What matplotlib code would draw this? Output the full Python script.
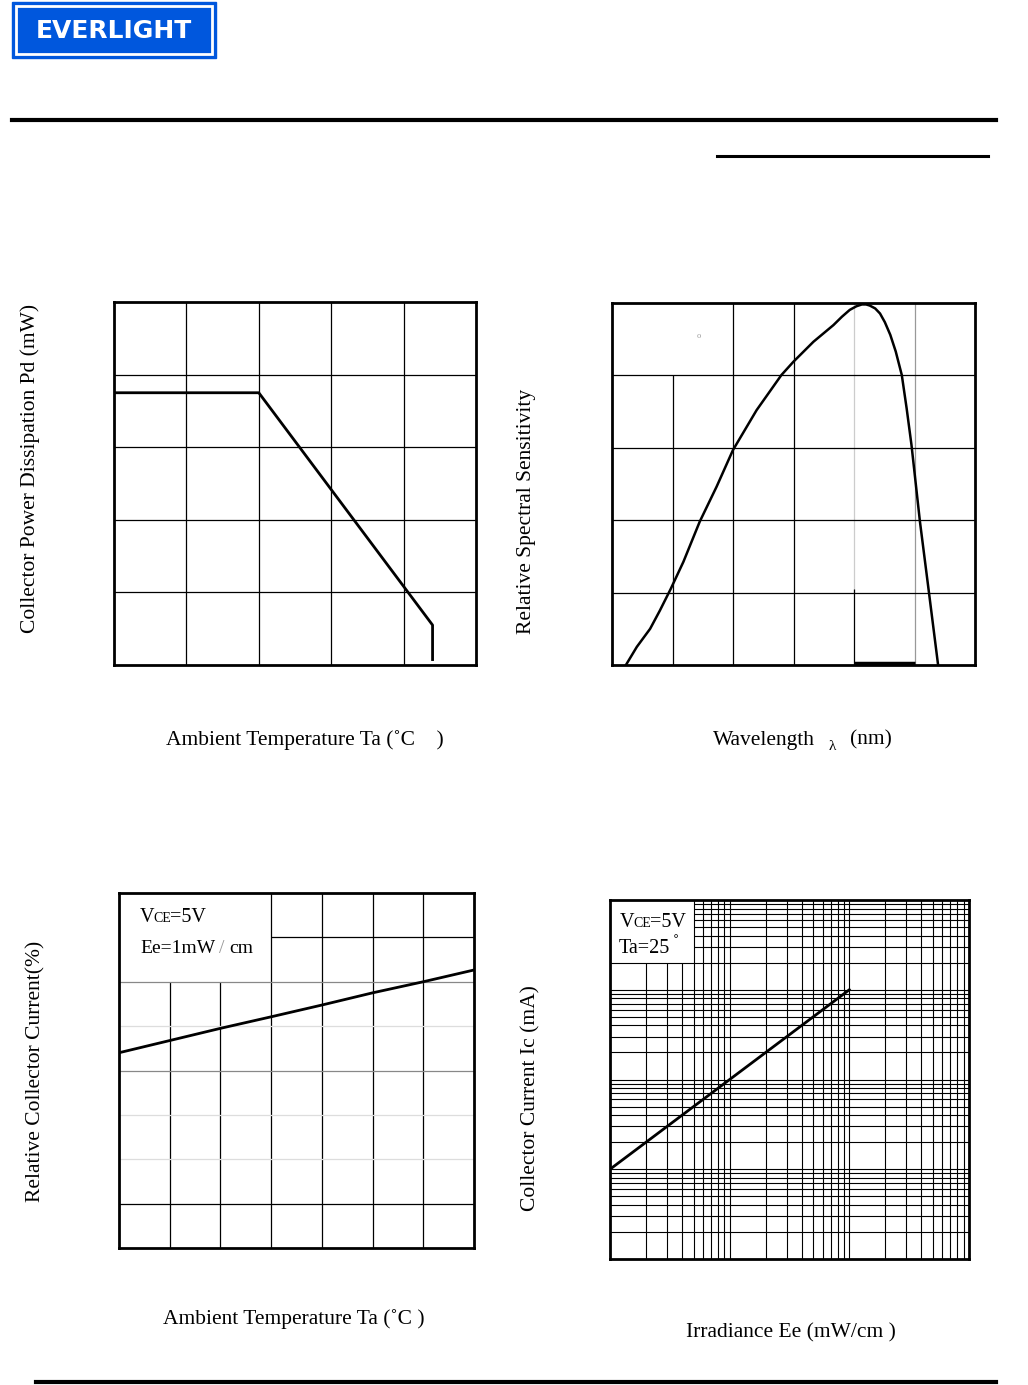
import matplotlib
matplotlib.use("Agg")
import matplotlib.pyplot as plt
from matplotlib.patches import Rectangle

plt.rcParams['font.family'] = ['Liberation Serif', 'DejaVu Serif']

W, H = 1028, 1385

# power dissipation vs ambient temperature
pd_ta = [-25, 25, 85, 85]
pd_mw = [75, 75, 11, 1.5]

# relative spectral sensitivity
wl_nm = [523, 541, 563, 579, 597, 618, 645, 673, 700, 739, 780, 800, 833,
         866, 880, 893, 904, 913, 920, 926, 935, 943, 951, 960, 969, 979,
         987, 995, 1009, 1023, 1039]
sens = [0, 5, 10, 15, 21, 28.5, 39.6, 49.3, 59.4, 70.4, 80.1, 83.8, 89.3,
        93.9, 96.2, 98.1, 99.1, 99.6, 99.6, 99.3, 98.5, 97.1, 94.7, 91.2,
        86.6, 80.1, 70.9, 60.8, 39.6, 21.2, 0]

# relative collector current vs ambient temperature
rc_ta = [-25, 0, 25, 50, 75, 100, 125, 150]
rc_pct = [88, 93.5, 99, 104.2, 109.5, 115, 120, 125.3]

# collector current vs irradiance
ee = [0.01, 0.1, 1]
ic = [0.1, 1, 10]


def box(l, t, r, b):
    return [l / W, 1 - b / H, (r - l) / W, (b - t) / H]


def frame(ax):
    ax.set_xticks([])
    ax.set_yticks([])
    for s in ax.spines.values():
        s.set_linewidth(2)
        s.set_color('black')


fig = plt.figure(figsize=(W / 100, H / 100), dpi=100)

bg = fig.add_axes([0, 0, 1, 1], zorder=0)
bg.set_xlim(0, W)
bg.set_ylim(H, 0)
bg.axis('off')


def note(x, y, s, **kw):
    # text in page pixels, drawn above the chart axes
    fig.text(x, y, s, transform=bg.transData, zorder=5, **kw)


# header
bg.add_patch(Rectangle((12, 2), 204, 56, color='#0057DD'))
bg.add_patch(Rectangle((16, 6), 196, 48, fill=False, ec='white', lw=2))
bg.text(114, 31, 'EVERLIGHT', color='white', fontsize=18, weight='bold',
        family='DejaVu Sans', ha='center', va='center')
bg.plot([12, 996], [120, 120], color='black', lw=3)
bg.plot([717, 988], [156, 156], color='black', lw=2.2)
bg.plot([36, 996], [1382, 1382], color='black', lw=3)

# ---- chart 1 ----
ax1 = fig.add_axes(box(114, 302, 476, 665), zorder=1)
ax1.set_xlim(-25, 100)
ax1.set_ylim(0, 100)
for x in [0, 25, 50, 75]:
    ax1.axvline(x, color='black', lw=0.9)
for y in [20, 40, 60, 80]:
    ax1.axhline(y, color='black', lw=0.9)
ax1.plot(pd_ta, pd_mw, color='black', lw=2)
frame(ax1)

# ---- chart 2 ----
ax2 = fig.add_axes(box(612, 303, 975, 665), zorder=1)
ax2.set_xlim(500, 1100)
ax2.set_ylim(0, 100)
ax2.vlines(600, 0, 80, color='black', lw=0.9)
ax2.vlines([700, 800], 0, 100, color='black', lw=0.9)
ax2.vlines(900, 20, 100, color='#cccccc', lw=0.9)
ax2.vlines(900, 0, 21, color='black', lw=0.9)
ax2.vlines(1000, 0, 100, color='#999999', lw=0.9)
ax2.hlines([20, 40, 60, 80], 500, 1100, color='black', lw=0.9)
ax2.hlines(0.6, 900, 1000, color='black', lw=2.5)
ax2.plot(wl_nm, sens, color='black', lw=1.8)
ax2.text(644, 91, 'o', color='#999999', fontsize=6, ha='center', va='center')
frame(ax2)

# ---- chart 3 ----
ax3 = fig.add_axes(box(119, 893, 474, 1248), zorder=1)
ax3.set_xlim(-25, 150)
ax3.set_ylim(0, 160)
ax3.vlines([0, 25], 0, 120, color='black', lw=0.9)
ax3.vlines([50, 75, 100, 125], 0, 160, color='black', lw=0.9)
ax3.hlines(140, 50, 150, color='black', lw=0.9)
ax3.hlines([120, 80], -25, 150, color='#888888', lw=0.9)
ax3.hlines([100, 60, 40], -25, 150, color='#dddddd', lw=0.9)
ax3.hlines(20, -25, 150, color='black', lw=0.9)
ax3.plot(rc_ta, rc_pct, color='black', lw=2)
frame(ax3)

# ---- chart 4 ----
ax4 = fig.add_axes(box(610, 900, 969, 1259), zorder=1)
ax4.set_xscale('log')
ax4.set_yscale('log')
ax4.set_xlim(0.01, 10)
ax4.set_ylim(0.01, 100)
for d in [0.01, 0.1, 1]:
    for m in range(1, 10):
        v = m * d
        if v <= 0.01:
            continue
        top = 20 if v < 0.049 else 100
        ax4.vlines(v, 0.01, top, color='black', lw=0.8)
for d in [0.01, 0.1, 1, 10]:
    for m in range(1, 10):
        v = m * d
        if v <= 0.01:
            continue
        left = 0.05 if v > 21 else 0.01
        ax4.hlines(v, left, 10, color='black', lw=0.8)
ax4.plot(ee, ic, color='black', lw=2)
frame(ax4)
ax4.minorticks_off()

# ---- in-chart notes ----
note(140, 922, 'V', fontsize=14.5, va='baseline')
note(153, 922, 'CE', fontsize=10, va='baseline')
note(170, 922, '=5V', fontsize=14.5, va='baseline')
note(140, 953, 'Ee=1mW', fontsize=14, va='baseline')
note(219, 953, '/', fontsize=14, va='baseline', color='#999999')
note(229, 953, 'cm', fontsize=14, va='baseline')

note(620, 927, 'V', fontsize=14.5, va='baseline')
note(633, 927, 'CE', fontsize=10, va='baseline')
note(650, 927, '=5V', fontsize=14.5, va='baseline')
note(619, 953, 'Ta=25', fontsize=14.5, va='baseline')
note(676, 944, '˚', fontsize=13, ha='center', va='center')

# ---- axis labels ----
lab = dict(fontsize=15.5, ha='center', va='center')
bg.text(30, 468, 'Collector Power Dissipation Pd (mW)', rotation=90, **lab)
bg.text(305, 740, 'Ambient Temperature Ta (˚C    )', **lab)
bg.text(527, 511, 'Relative Spectral Sensitivity', rotation=90, **lab)
bg.text(713, 740, 'Wavelength', fontsize=15.5, ha='left', va='center')
bg.text(832, 746, 'λ', fontsize=11, ha='center', va='center')
bg.text(850, 740, '(nm)', fontsize=15.5, ha='left', va='center')
bg.text(36, 1071, 'Relative Collector Current(%)', rotation=90, **lab)
bg.text(294, 1319, 'Ambient Temperature Ta (˚C )', **lab)
bg.text(531, 1098, 'Collector Current Ic (mA)', rotation=90, **lab)
bg.text(791, 1333, 'Irradiance Ee (mW/cm )', **lab)

fig.savefig('out.png', dpi=100)
